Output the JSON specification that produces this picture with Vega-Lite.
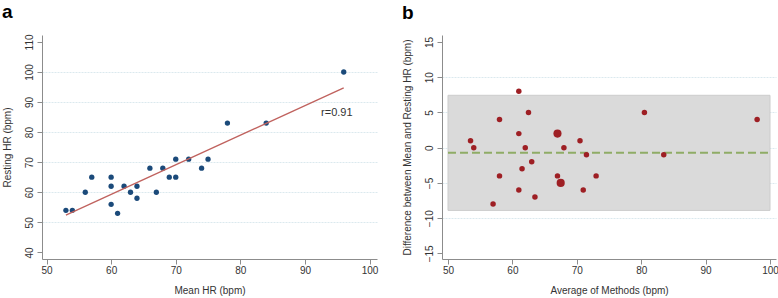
{
  "$schema": "https://vega.github.io/schema/vega-lite/v6.json",
  "background": "white",
  "padding": {"left": 2, "top": 2, "right": 0, "bottom": 2},
  "spacing": 24,
  "config": {
    "view": {"stroke": null},
    "font": "Liberation Sans",
    "axis": {
      "domainColor": "#8c8c8c",
      "tickColor": "#8c8c8c",
      "tickSize": 5,
      "labelFontSize": 10,
      "labelColor": "#333333",
      "labelOverlap": false,
      "labelFlush": false,
      "titleFontSize": 10,
      "titleFontWeight": "normal",
      "titleColor": "#333333",
      "gridColor": "#dbe9ee",
      "gridDash": [2, 1],
      "gridWidth": 1
    },
    "title": {"fontSize": 19, "fontWeight": "bold", "anchor": "start", "color": "#000000", "frame": "bounds"}
  },
  "datasets": {
    "hr": [
      {"mean_hr": 53, "resting_hr": 54, "avg": 53.5, "diff": 1, "n": 1},
      {"mean_hr": 54, "resting_hr": 54, "avg": 54, "diff": 0, "n": 1},
      {"mean_hr": 56, "resting_hr": 60, "avg": 58, "diff": 4, "n": 1},
      {"mean_hr": 57, "resting_hr": 65, "avg": 61, "diff": 8, "n": 1},
      {"mean_hr": 60, "resting_hr": 65, "avg": 62.5, "diff": 5, "n": 1},
      {"mean_hr": 60, "resting_hr": 62, "avg": 61, "diff": 2, "n": 1},
      {"mean_hr": 60, "resting_hr": 56, "avg": 58, "diff": -4, "n": 1},
      {"mean_hr": 61, "resting_hr": 53, "avg": 57, "diff": -8, "n": 1},
      {"mean_hr": 62, "resting_hr": 62, "avg": 62, "diff": 0, "n": 1},
      {"mean_hr": 63, "resting_hr": 60, "avg": 61.5, "diff": -3, "n": 1},
      {"mean_hr": 64, "resting_hr": 62, "avg": 63, "diff": -2, "n": 1},
      {"mean_hr": 64, "resting_hr": 58, "avg": 61, "diff": -6, "n": 1},
      {"mean_hr": 66, "resting_hr": 68, "avg": 67, "diff": 2, "n": 2},
      {"mean_hr": 67, "resting_hr": 60, "avg": 63.5, "diff": -7, "n": 1},
      {"mean_hr": 68, "resting_hr": 68, "avg": 68, "diff": 0, "n": 1},
      {"mean_hr": 69, "resting_hr": 65, "avg": 67, "diff": -4, "n": 1},
      {"mean_hr": 70, "resting_hr": 65, "avg": 67.5, "diff": -5, "n": 2},
      {"mean_hr": 70, "resting_hr": 71, "avg": 70.5, "diff": 1, "n": 1},
      {"mean_hr": 72, "resting_hr": 71, "avg": 71.5, "diff": -1, "n": 1},
      {"mean_hr": 74, "resting_hr": 68, "avg": 71, "diff": -6, "n": 1},
      {"mean_hr": 75, "resting_hr": 71, "avg": 73, "diff": -4, "n": 1},
      {"mean_hr": 78, "resting_hr": 83, "avg": 80.5, "diff": 5, "n": 1},
      {"mean_hr": 84, "resting_hr": 83, "avg": 83.5, "diff": -1, "n": 1},
      {"mean_hr": 96, "resting_hr": 100, "avg": 98, "diff": 4, "n": 1}
    ],
    "fit": [
      {"mean_hr": 53, "resting_hr": 52.4},
      {"mean_hr": 96, "resting_hr": 94.7}
    ],
    "annot": [
      {"mean_hr": 92.5, "resting_hr": 86.4, "label": "r=0.91"}
    ],
    "loa": [
      {"x1": 50, "x2": 100, "lower": -8.9, "upper": 7.44, "bias": -0.73}
    ]
  },
  "hconcat": [
    {
      "title": {"text": "a", "offset": 12},
      "width": 335,
      "height": 224,
      "layer": [
        {
          "data": {"name": "hr"},
          "mark": {"type": "point", "filled": true, "size": 28, "color": "#1b4a7a", "opacity": 1},
          "encoding": {
            "x": {
              "field": "mean_hr", "type": "quantitative",
              "scale": {"domain": [49.3, 101.15], "nice": false, "zero": false},
              "axis": {"values": [50, 60, 70, 80, 90, 100], "tickCount": 20, "grid": false, "title": "Mean HR (bpm)", "labelPadding": 1, "titlePadding": 10}
            },
            "y": {
              "field": "resting_hr", "type": "quantitative",
              "scale": {"domain": [37.8, 112.3], "nice": false, "zero": false},
              "axis": {
                "values": [40, 50, 60, 70, 80, 90, 100, 110],
                "tickCount": 20,
                "grid": true,
                "gridOpacity": {"condition": {"test": "datum.value == 40 || datum.value == 110", "value": 0}, "value": 1},
                "labelAngle": -90, "labelAlign": "center", "labelBaseline": "bottom", "labelPadding": 3,
                "title": "Resting HR (bpm)", "titlePadding": 12
              }
            }
          }
        },
        {
          "data": {"name": "fit"},
          "mark": {"type": "line", "color": "#c0625e", "strokeWidth": 1.3},
          "encoding": {
            "x": {"field": "mean_hr", "type": "quantitative"},
            "y": {"field": "resting_hr", "type": "quantitative"}
          }
        },
        {
          "data": {"name": "annot"},
          "mark": {"type": "text", "align": "left", "baseline": "middle", "fontSize": 11, "color": "#333333"},
          "encoding": {
            "x": {"field": "mean_hr", "type": "quantitative"},
            "y": {"field": "resting_hr", "type": "quantitative"},
            "text": {"field": "label"}
          }
        }
      ]
    },
    {
      "title": {"text": "b", "offset": 12},
      "width": 334,
      "height": 224,
      "layer": [
        {
          "data": {"name": "loa"},
          "mark": {"type": "rect", "fill": "#dadada", "stroke": "#cccccc", "strokeWidth": 1},
          "encoding": {
            "x": {
              "field": "x1", "type": "quantitative",
              "scale": {"domain": [49.07, 100.93], "nice": false, "zero": false},
              "axis": {"values": [50, 60, 70, 80, 90, 100], "tickCount": 20, "grid": false, "title": "Average of Methods (bpm)", "labelPadding": 1, "titlePadding": 10}
            },
            "x2": {"field": "x2"},
            "y": {
              "field": "lower", "type": "quantitative",
              "scale": {"domain": [-15.8, 16], "nice": false, "zero": false},
              "axis": {
                "values": [-15, -10, -5, 0, 5, 10, 15],
                "tickCount": 20,
                "grid": true,
                "gridOpacity": {"condition": {"test": "datum.value == -15 || datum.value == 15", "value": 0}, "value": 1},
                "labelAngle": -90, "labelAlign": "center", "labelBaseline": "bottom", "labelPadding": 3,
                "title": "Difference between Mean and Resting HR (bpm)", "titlePadding": 12
              }
            },
            "y2": {"field": "upper"}
          }
        },
        {
          "data": {"name": "loa"},
          "mark": {"type": "rule", "color": "#8fac66", "strokeWidth": 2, "strokeDash": [8, 4]},
          "encoding": {
            "x": {"field": "x1", "type": "quantitative"},
            "x2": {"field": "x2"},
            "y": {"field": "bias", "type": "quantitative"}
          }
        },
        {
          "data": {"name": "hr"},
          "mark": {"type": "point", "filled": true, "color": "#9e1f24", "opacity": 1},
          "encoding": {
            "x": {"field": "avg", "type": "quantitative"},
            "y": {"field": "diff", "type": "quantitative"},
            "size": {"field": "n", "type": "quantitative", "scale": {"domain": [1, 2], "range": [30, 66]}, "legend": null}
          }
        }
      ]
    }
  ]
}
